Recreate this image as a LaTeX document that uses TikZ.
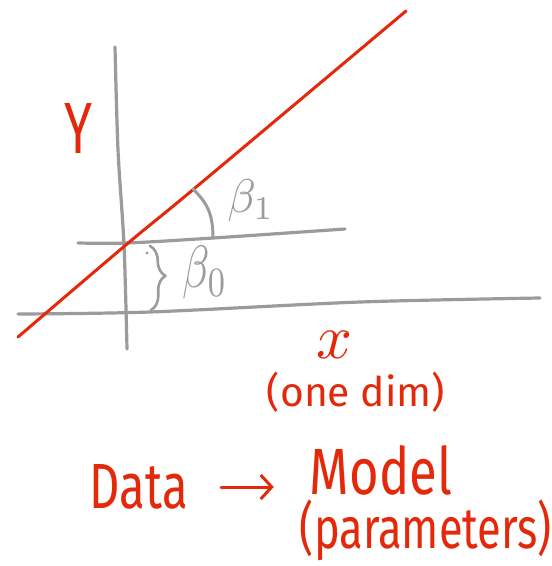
\documentclass[tikz,border=0pt]{standalone}
\usepackage{fontspec}
\setmainfont{Fira Sans}
\usepackage{graphicx}
\usetikzlibrary{arrows.meta,decorations.pathreplacing}
\definecolor{ink}{RGB}{228,40,10}
\definecolor{pencil}{RGB}{155,155,155}
\tikzset{
  redink/.style={draw=ink, line width=3pt, line cap=round, line join=round},
  grayink/.style={draw=pencil, line width=3.2pt, line cap=round, line join=round},
  redtext/.style={text=ink, inner sep=0pt},
  graytext/.style={text=pencil, inner sep=0pt},
}
\begin{document}
\begin{tikzpicture}[x=1pt,y=-1pt]
\useasboundingbox (0,0) rectangle (552,566);
% axes
\draw[grayink] plot[smooth] coordinates {(115,47) (118,150) (124,245) (127,349)};
\draw[grayink] plot[smooth] coordinates {(18,314) (150,312) (360,302) (540,298)};
\draw[grayink] plot[smooth] coordinates {(78,243) (127,243) (213,238) (345,229)};
% regression line
\draw[redink] plot[smooth] coordinates {(18,337) (127,244) (195,188) (406,11)};
% angle arc
\coordinate (a1) at (193,189);
\coordinate (a2) at (213,238);
\draw[grayink, line width=3pt] (a1) .. controls (206,202) and (213,212) .. (a2);
% brace for intercept
\coordinate (b1) at (150,246);
\coordinate (b2) at (151,310);
\draw[grayink, line width=2.6pt, decorate, decoration={brace, amplitude=15pt, aspect=0.47}] (b1) -- (b2);
\fill[pencil] (147,253) circle (1.6pt);
% labels
\node[graytext] (beta1) at (251,201) {\resizebox*{47pt}{42pt}{$\beta_1$}};
\node[graytext] (beta0) at (205,273) {\resizebox*{45pt}{53pt}{$\beta_0$}};
\node[redtext] (ylab) at (78,128) {\resizebox{28pt}{50pt}{Y}};
\node[redtext] (xlab) at (335,345) {\resizebox{36pt}{!}{$x$}};
\node[redtext] (dim) at (356,392) {\resizebox{178pt}{!}{(one dim)}};
\node[redtext] (data) at (139,487) {\resizebox{98pt}{44pt}{Data}};
\node[redtext] (model) at (381,470) {\resizebox{142pt}{49pt}{Model}};
\node[redtext] (params) at (426,530) {\resizebox*{252pt}{61pt}{(parameters)}};
\draw[redink, -{Straight Barb[length=11pt,width=24pt,line width=3pt]}, shorten <=33pt, shorten >=36pt] (data.east) -- (model.west |- data.east);
\end{tikzpicture}
\end{document}
